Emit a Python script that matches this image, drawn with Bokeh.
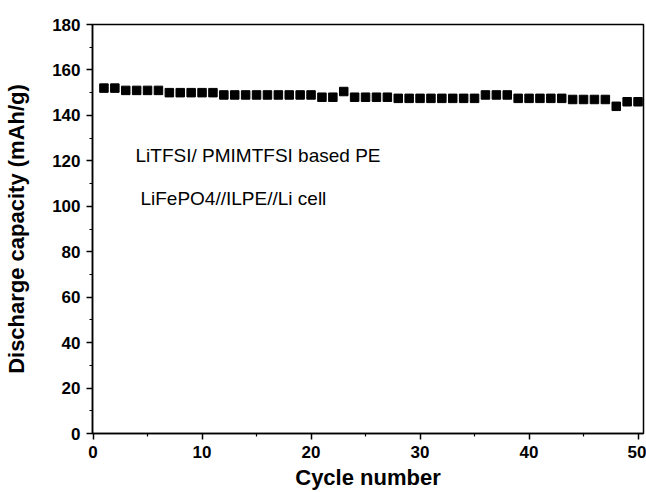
from bokeh.plotting import figure
from bokeh.models import Range1d, Label, FixedTicker
from bokeh.embed import file_html
from bokeh.resources import INLINE

cycles = list(range(1, 51))
capacity = [152, 152, 151, 151, 151, 151, 150, 150, 150, 150,
            150, 149, 149, 149, 149, 149, 149, 149, 149, 149,
            148, 148, 150.5, 148, 148, 148, 148, 147.5, 147.5, 147.5,
            147.5, 147.5, 147.5, 147.5, 147.5, 149, 149, 149, 147.5, 147.5,
            147.5, 147.5, 147.5, 147, 147, 147, 147, 144, 146, 146]

x_ticks = [0, 10, 20, 30, 40, 50]
x_minor = [5, 15, 25, 35, 45]
y_ticks = [0, 20, 40, 60, 80, 100, 120, 140, 160, 180]
y_minor = [10, 30, 50, 70, 90, 110, 130, 150, 170]

annot1 = "LiTFSI/  PMIMTFSI based PE"
annot2 = "LiFePO4//ILPE//Li cell"

FONT = "Liberation Sans"

p = figure(width=646, height=492, output_backend="svg", toolbar_location=None,
           x_range=Range1d(-0.05, 50.5), y_range=Range1d(0, 180),
           min_border_left=92, min_border_top=24, min_border_right=3, min_border_bottom=58)

p.scatter(cycles, capacity, marker="square", size=8.5, color="black")

p.xgrid.visible = False
p.ygrid.visible = False
p.outline_line_color = "black"
p.outline_line_width = 1.5
p.background_fill_color = "white"
p.border_fill_color = "white"

p.xaxis.ticker = FixedTicker(ticks=x_ticks, minor_ticks=x_minor)
p.yaxis.ticker = FixedTicker(ticks=y_ticks, minor_ticks=y_minor)

for ax in (p.xaxis[0], p.yaxis[0]):
    ax.axis_line_color = "black"
    ax.axis_line_width = 1.5
    ax.major_tick_line_color = "black"
    ax.major_tick_line_width = 1.5
    ax.minor_tick_line_color = "black"
    ax.minor_tick_line_width = 1.2
    ax.major_tick_out = 6
    ax.major_tick_in = 0
    ax.minor_tick_out = 3
    ax.minor_tick_in = 0
    ax.major_label_text_font = FONT
    ax.major_label_text_font_style = "bold"
    ax.major_label_text_font_size = "17px"
    ax.major_label_text_color = "black"
    ax.axis_label_text_font = FONT
    ax.axis_label_text_font_style = "bold"
    ax.axis_label_text_font_size = "22px"
    ax.axis_label_text_color = "black"

p.xaxis.axis_label = "Cycle number"
p.yaxis.axis_label = "Discharge capacity (mAh/g)"
p.xaxis.major_label_standoff = 6
p.yaxis.major_label_standoff = 6
p.xaxis.axis_label_standoff = 4
p.yaxis.axis_label_standoff = 20

p.add_layout(Label(x=3.9, y=122.5, text=annot1, text_font=FONT,
                   text_font_size="19px", text_baseline="middle", text_color="black"))
p.add_layout(Label(x=4.35, y=103.6, text=annot2, text_font=FONT,
                   text_font_size="19px", text_baseline="middle", text_color="black"))

open("out.html", "w").write(file_html(p, INLINE))
